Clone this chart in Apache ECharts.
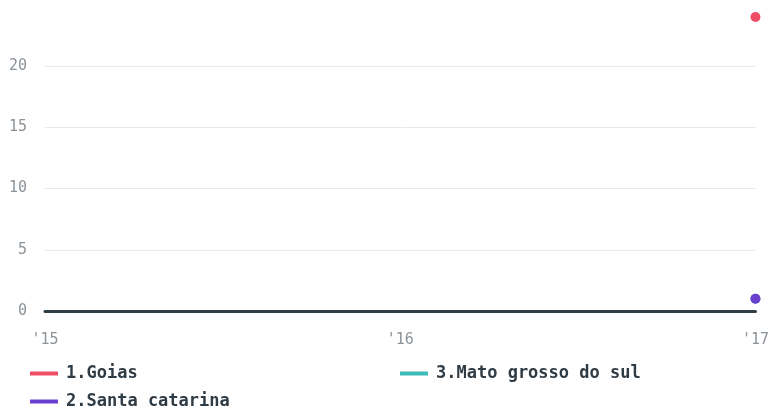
<!DOCTYPE html>
<html><head><meta charset="utf-8">
<script src="https://cdn.jsdelivr.net/npm/echarts@6/dist/echarts.min.js"></script>
<style>html,body{margin:0;padding:0;background:#fff}#c{width:772px;height:410px}</style>
</head><body><div id="c"></div>
<script>
const categories = ["'15", "'16", "'17"];
const goias = [null, null, 24];
const santaCatarina = [null, null, 1];
const matoGrossoDoSul = [null, null, 1];
const yTicks = [0, 5, 10, 15, 20];

const names = ['1.Goias', '2.Santa catarina', '3.Mato grosso do sul'];
const colors = ['#ef4f66', '#6a3fd0', '#3dbbb8'];
const font = 'DejaVu Sans Mono';
const grid = '#e8e8e8';
const chart = echarts.init(document.getElementById('c'));
function leg(name, left, top) {
  return { data: [name], left: left, top: top, itemWidth: 28, itemHeight: 4, itemGap: 8,
    icon: 'rect', padding: 0,
    textStyle: { fontFamily: font, fontWeight: 'bold', fontSize: 17, color: '#2f3b45', padding: [0, 0, 0, 3] } };
}
chart.setOption({
  animation: false,
  color: colors,
  grid: { left: 45, right: 14, top: 17, bottom: 99 },
  legend: [leg(names[0], 30, 365), leg(names[1], 30, 393), leg(names[2], 400, 365)],
  xAxis: { type: 'category', data: categories, boundaryGap: false,
    axisLine: { show: true, lineStyle: { color: '#2f3e46', width: 3 } },
    axisTick: { show: false },
    axisLabel: { color: '#8c9399', fontFamily: font, fontSize: 15, margin: 22,
      alignMinLabel: 'center', alignMaxLabel: 'center' },
    splitLine: { show: false } },
  yAxis: { type: 'value', min: 0, max: 24, interval: 5,
    axisLine: { show: false }, axisTick: { show: false },
    axisLabel: { color: '#8c9399', fontFamily: font, fontSize: 15, margin: 18,
      formatter: v => yTicks.includes(v) ? String(v) : '' },
    splitLine: { lineStyle: { color: [grid, grid, grid, grid, grid, 'rgba(0,0,0,0)'], width: 1 } } },
  series: [
    { name: names[0], type: 'line', data: goias, symbol: 'circle', symbolSize: 10, showSymbol: true, itemStyle: { color: colors[0] }, lineStyle: { width: 3 } },
    { name: names[2], type: 'line', data: matoGrossoDoSul, symbol: 'circle', symbolSize: 10, showSymbol: true, itemStyle: { color: colors[2] }, lineStyle: { width: 3 } },
    { name: names[1], type: 'line', data: santaCatarina, symbol: 'circle', symbolSize: 10, showSymbol: true, itemStyle: { color: colors[1] }, lineStyle: { width: 3 } }
  ]
});
</script></body></html>
